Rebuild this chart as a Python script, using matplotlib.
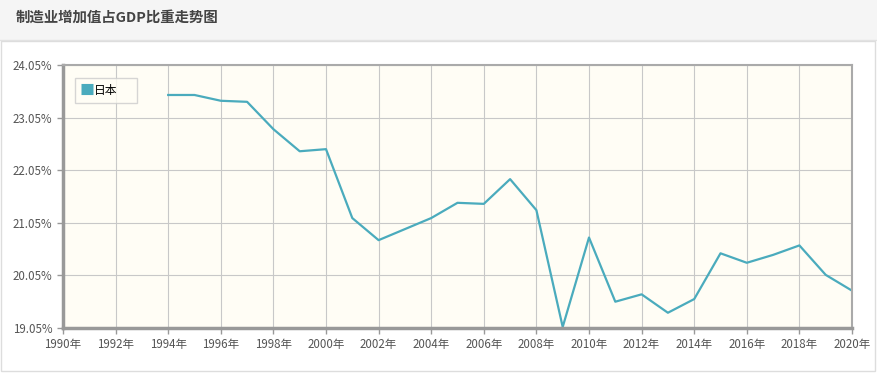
import numpy as np
import matplotlib.pyplot as plt
from matplotlib.patches import Rectangle

plt.rcParams['font.family'] = ['Noto Sans CJK SC', 'DejaVu Sans']

# 数据
years = [1994, 1995, 1996, 1997, 1998, 1999, 2000, 2001, 2002, 2003, 2004,
         2005, 2006, 2007, 2008, 2009, 2010, 2011, 2012, 2013, 2014, 2015,
         2016, 2017, 2018, 2019, 2020]
japan = [23.48, 23.48, 23.37, 23.35, 22.83, 22.41, 22.45, 21.14, 20.72, 20.93,
         21.14, 21.43, 21.41, 21.88, 21.29, 19.07, 20.77, 19.55, 19.69, 19.34,
         19.60, 20.47, 20.29, 20.44, 20.62, 20.06, 19.76]
xticks = list(range(1990, 2021, 2))
yticks = [19.05, 20.05, 21.05, 22.05, 23.05, 24.05]

fig = plt.figure(figsize=(8.77, 3.74), dpi=100)
fig.patch.set_facecolor('white')

# 标题栏
fig.patches.append(Rectangle((0, 334 / 374), 1, 40 / 374, transform=fig.transFigure,
                             facecolor='#f5f5f5', edgecolor='none', zorder=0))
fig.lines.append(plt.Line2D([0, 1], [334 / 374, 334 / 374], transform=fig.transFigure,
                            color='#e2e2e2', lw=1))
fig.patches.append(Rectangle((1 / 877, 3 / 374), 874 / 877, 330 / 374, transform=fig.transFigure,
                             facecolor='none', edgecolor='#dddddd', lw=1))
fig.text(16 / 877, 1 - 18 / 374, '制造业增加值占GDP比重走势图', fontsize=10.4,
         fontweight='bold', color='#444444', va='center', ha='left')

ax = fig.add_axes([63 / 877, 46 / 374, 789 / 877, 263 / 374])
ax.set_facecolor('#fffdf5')
ax.plot(years, japan, color='#4aabbd', lw=1.6, label='日本')

ax.set_xlim(1990, 2020)
ax.set_ylim(19.05, 24.05)
ax.set_xticks(xticks)
ax.set_xticklabels([f'{y}年' for y in xticks])
ax.set_yticks(yticks)
ax.set_yticklabels([f'{v:.2f}%' for v in yticks])
ax.grid(True, color='#c8c8c8', lw=0.8)
ax.set_axisbelow(True)
ax.tick_params(colors='#999999', labelcolor='#555555', labelsize=8.3, length=4, width=1)
ax.tick_params(axis='x', pad=3)
for side in ['left', 'bottom']:
    ax.spines[side].set_color('#999999')
    ax.spines[side].set_linewidth(2.5)
for side in ['top', 'right']:
    ax.spines[side].set_color('#aaaaaa')
    ax.spines[side].set_linewidth(1.5)

leg = ax.legend(loc='upper left', bbox_to_anchor=(0.0152, 0.863, 0.0786, 0.0876),
                mode='expand', borderaxespad=0, handlelength=1.0,
                handleheight=1.0, handletextpad=0.1, borderpad=0.5, fontsize=8.5,
                fancybox=False, frameon=True)
leg.get_frame().set_edgecolor('#cccccc')
leg.get_frame().set_facecolor('#fffdf5')
for h in leg.legend_handles:
    h.set_linewidth(8)
    h.set_solid_capstyle('butt')

plt.savefig('out.png', dpi=100)
